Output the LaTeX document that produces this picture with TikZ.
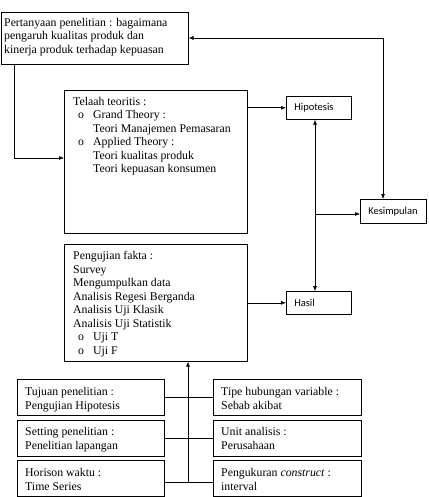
\documentclass[tikz,border=0pt]{standalone}
\usepackage{fontspec}
\setmainfont{Liberation Serif}
\newfontfamily\calib{Carlito}
\usetikzlibrary{arrows.meta}
\newcommand{\bul}{\makebox[20pt][l]{\hspace{5pt}o}}
\newcommand{\ind}{\hspace*{20pt}}
\begin{document}
\begin{tikzpicture}[x=1pt,y=-1pt,
  box/.style={draw, line width=0.6pt, anchor=north west, inner sep=0pt},
  cbox/.style={draw, line width=0.6pt, anchor=north west, inner xsep=8pt, inner ysep=0pt, align=left, font=\calib\fontsize{10.5}{12}\selectfont},
  txt/.style={anchor=north west, align=left, inner sep=0pt, font=\fontsize{11.8}{13.5}\selectfont},
  btxt/.style={anchor=north west, align=left, inner sep=0pt, font=\fontsize{11.8}{14.6}\selectfont},
  arr/.style={line width=0.6pt, -{Latex[length=5pt,width=4pt]}},
  darr/.style={line width=0.6pt, {Latex[length=5pt,width=4pt]}-{Latex[length=5pt,width=4pt]}},
  ln/.style={line width=0.6pt}]
\useasboundingbox (0,0) rectangle (428,497);
% boxes
\node[box, minimum width=187pt, minimum height=52pt] (pert) at (1,12) {};
\node[txt] (pertt) at (4,18) {Pertanyaan penelitian : bagaimana\\pengaruh kualitas produk dan\\kinerja produk terhadap kepuasan};
\node[box, minimum width=183pt, minimum height=143pt] (tel) at (64,90) {};
\node[txt] (telt) at (73,97) {Telaah teoritis :\\\bul Grand Theory :\\\ind Teori Manajemen Pemasaran\\\bul Applied Theory :\\\ind Teori kualitas produk\\\ind Teori kepuasan konsumen};
\node[box, minimum width=183pt, minimum height=117pt] (uji) at (64,244) {};
\node[txt] (ujit) at (73,251) {Pengujian fakta :\\Survey\\Mengumpulkan data\\Analisis Regesi Berganda\\Analisis Uji Klasik\\Analisis Uji Statistik\\\bul Uji T\\\bul Uji F};
\node[cbox, minimum height=23pt, text width=49pt] (hip) at (286,96) {Hipotesis};
\node[cbox, minimum height=24pt, text width=50pt] (kes) at (360,199) {Kesimpulan};
\node[cbox, minimum height=23pt, text width=49pt] (has) at (286,291) {Hasil};
% bottom boxes
\node[box, minimum width=147pt, minimum height=36pt] (b1) at (17,379) {};
\node[box, minimum width=147pt, minimum height=36pt] (b2) at (17,420) {};
\node[box, minimum width=147pt, minimum height=36pt] (b3) at (17,460) {};
\node[box, minimum width=148pt, minimum height=36pt] (r1) at (213,379) {};
\node[box, minimum width=148pt, minimum height=36pt] (r2) at (213,420) {};
\node[box, minimum width=148pt, minimum height=36pt] (r3) at (213,460) {};
\node[btxt] (b1t) at (25,387) {Tujuan penelitian :\\Pengujian Hipotesis};
\node[btxt] (b2t) at (25,427) {Setting penelitian :\\Penelitian lapangan};
\node[btxt] (b3t) at (25,468) {Horison waktu :\\Time Series};
\node[btxt] (r1t) at (221,387) {Tipe hubungan variable :\\Sebab akibat};
\node[btxt] (r2t) at (221,427) {Unit analisis :\\Perusahaan};
\node[btxt] (r3t) at (221,468) {Pengukuran \textit{construct} :\\interval};
% connectors
\coordinate (k1) at (383,38);
\coordinate (p1) at (14,158);
\coordinate (h1) at (315,214);
\coordinate (c1) at (188,482);
\draw[darr] (kes.north -| k1) -- (k1) -- (pert.east |- k1);
\draw[arr] (pert.south -| p1) -- (p1) -- (tel.west |- p1);
\draw[arr] (tel.east |- hip.west) -- (hip.west);
\draw[darr] (hip.south -| h1) -- (has.north -| h1);
\draw[arr] (h1) -- (kes.west |- h1);
\draw[arr] (uji.east |- has.west) -- (has.west);
\draw[ln] (b1.east) -- (r1.west);
\draw[ln] (b2.east) -- (r2.west);
\draw[ln] (b3.east |- c1) -- (r3.west |- c1);
\draw[arr] (c1) -- (uji.south -| c1);
\end{tikzpicture}
\end{document}
